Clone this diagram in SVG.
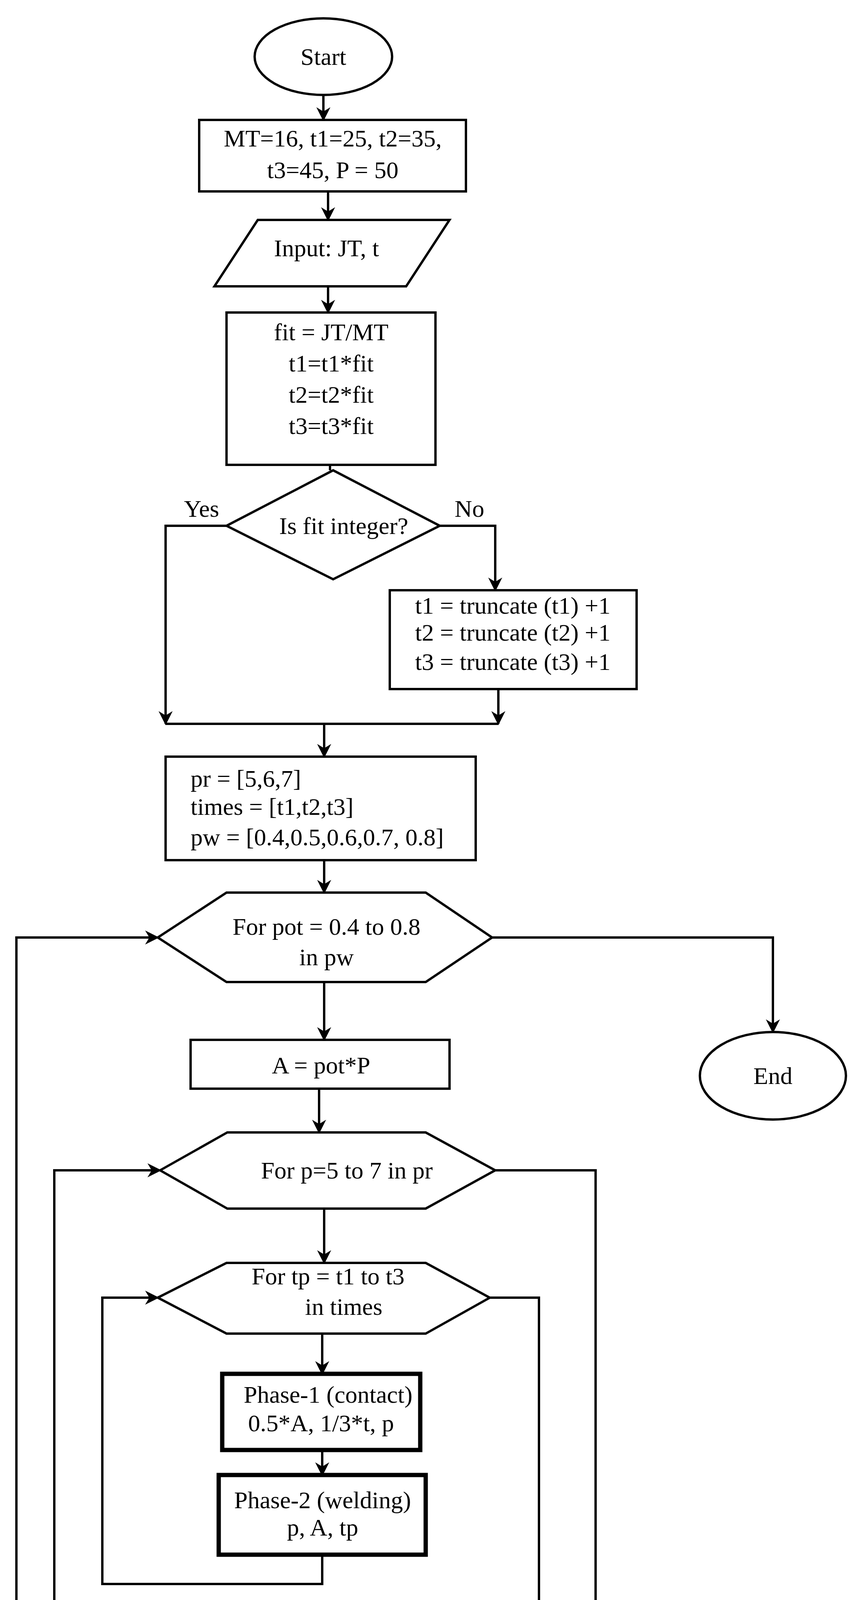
<svg xmlns="http://www.w3.org/2000/svg" width="2202" height="4363" viewBox="0 0 2202 4363">
<defs>
<marker id="ah" viewBox="0 0 20 20" refX="18" refY="10" markerWidth="40" markerHeight="36" markerUnits="userSpaceOnUse" orient="auto">
<path d="M0,0 L20,10 L0,20 L6,10 Z" fill="#000"/>
</marker>
<style>
.s{fill:#fff;stroke:#000;stroke-width:6}
.b{fill:#fff;stroke:#000;stroke-width:11}
.c{fill:none;stroke:#000;stroke-width:6}
.a{fill:none;stroke:#000;stroke-width:6;marker-end:url(#ah)}
text{font-family:"Liberation Serif","Times New Roman",serif;font-size:62px;fill:#000;text-anchor:middle;dominant-baseline:central}
.l{text-anchor:start}
</style>
</defs>
<rect width="2202" height="4363" fill="#fff"/>
<g id="connectors">
<path class="a" d="M828,243 V307"/>
<path class="a" d="M840,490 V563"/>
<path class="a" d="M840,733 V800"/>
<path class="c" d="M845,1190 V1204"/>
<path class="c" d="M580,1346 H424 V1853"/>
<path class="a" d="M424,1780 V1853"/>
<path class="a" d="M1126,1346 H1268 V1511"/>
<path class="a" d="M1276,1764 V1853"/>
<path class="c" d="M424,1853 H1276"/>
<path class="a" d="M830,1853 V1937"/>
<path class="a" d="M830,2202 V2285"/>
<path class="a" d="M1260,2400 H1979 V2642"/>
<path class="a" d="M830,2514 V2662"/>
<path class="a" d="M817,2787 V2899"/>
<path class="a" d="M830,3094 V3233"/>
<path class="a" d="M825,3414 V3517"/>
<path class="a" d="M825,3712 V3776"/>
<path class="a" d="M825,3980 V4055 H262 V3322 H404"/>
<path class="a" d="M1254,3322 H1380 V4139 H139 V2996 H410"/>
<path class="a" d="M1268,2996 H1525 V4325 H42 V2400 H404"/>
</g>
<g id="start"><ellipse class="s" cx="828" cy="145" rx="176" ry="98"/><text x="828" y="145">Start</text></g>
<g id="init"><rect class="s" x="510" y="307" width="683" height="183"/><text x="852" y="354">MT=16, t1=25, t2=35,</text><text x="852" y="435">t3=45, P = 50</text></g>
<g id="input"><polygon class="s" points="660,563 1151,563 1040,733 549,733"/><text x="836" y="635">Input: JT, t</text></g>
<g id="fit"><rect class="s" x="580" y="800" width="535" height="390"/><text x="848" y="850">fit = JT/MT</text><text x="848" y="930">t1=t1*fit</text><text x="848" y="1010">t2=t2*fit</text><text x="848" y="1090">t3=t3*fit</text></g>
<g id="decision"><polygon class="s" points="853,1204 1126,1346 853,1483 580,1346"/><text x="880" y="1346">Is fit integer?</text><text x="516" y="1302">Yes</text><text x="1202" y="1302">No</text></g>
<g id="truncate"><rect class="s" x="998" y="1511" width="632" height="253"/><text x="1313" y="1550">t1 = truncate (t1) +1</text><text x="1313" y="1619">t2 = truncate (t2) +1</text><text x="1313" y="1694">t3 = truncate (t3) +1</text></g>
<g id="arrays"><rect class="s" x="424" y="1937" width="794" height="265"/><text class="l" x="488" y="1993">pr = [5,6,7]</text><text class="l" x="488" y="2065">times = [t1,t2,t3]</text><text class="l" x="488" y="2143">pw = [0.4,0.5,0.6,0.7, 0.8]</text></g>
<g id="loop-pot"><polygon class="s" points="404,2400 580,2285 1090,2285 1260,2400 1090,2514 580,2514"/><text x="836" y="2372">For pot = 0.4 to 0.8</text><text x="836" y="2450">in pw</text></g>
<g id="end"><ellipse class="s" cx="1979" cy="2754" rx="187" ry="112"/><text x="1979" y="2754">End</text></g>
<g id="calcA"><rect class="s" x="488" y="2662" width="663" height="125"/><text x="822" y="2727">A = pot*P</text></g>
<g id="loop-p"><polygon class="s" points="410,2996 582,2899 1090,2899 1268,2996 1090,3094 582,3094"/><text x="888" y="2996">For p=5 to 7 in pr</text></g>
<g id="loop-tp"><polygon class="s" points="404,3322 580,3233 1090,3233 1254,3322 1090,3414 580,3414"/><text x="840" y="3267">For tp = t1 to t3</text><text x="880" y="3345">in times</text></g>
<g id="phase1"><rect class="b" x="569" y="3517" width="507" height="195"/><text x="840" y="3570">Phase-1 (contact)</text><text x="822" y="3643">0.5*A, 1/3*t, p</text></g>
<g id="phase2"><rect class="b" x="560" y="3776" width="530" height="204"/><text x="826" y="3840">Phase-2 (welding)</text><text x="826" y="3910">p, A, tp</text></g>
</svg>
